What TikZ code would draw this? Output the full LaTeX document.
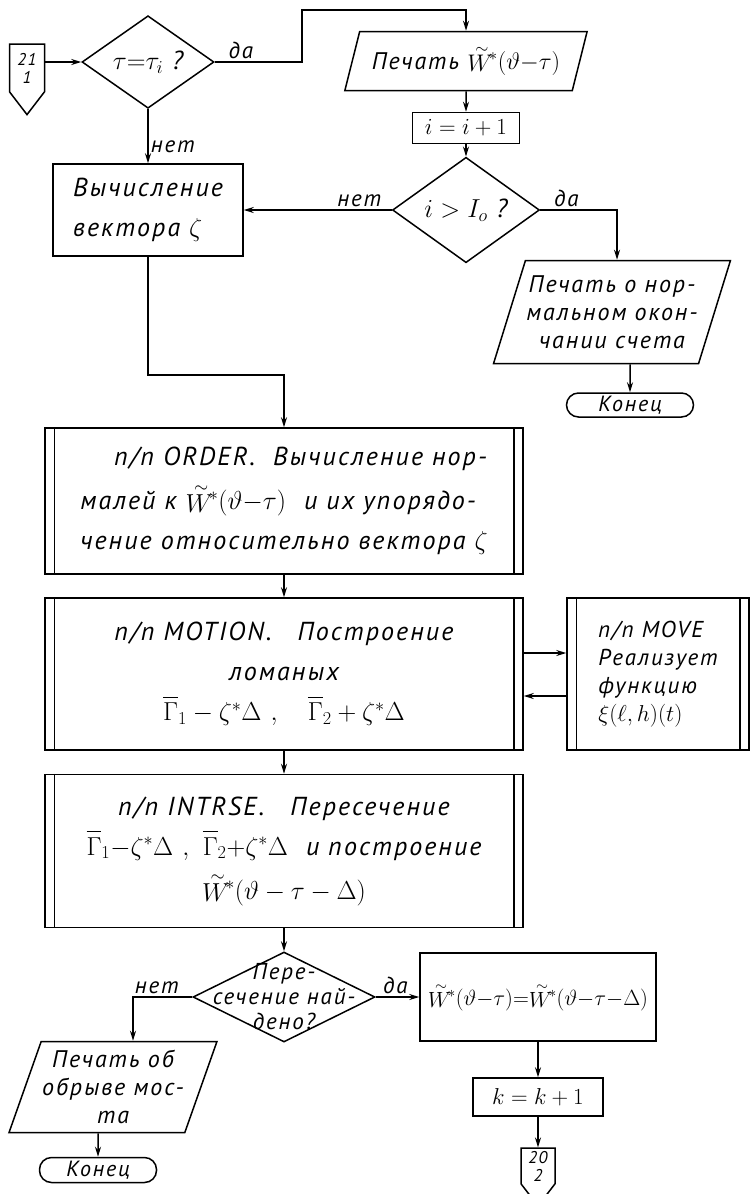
\RequirePackage{fix-cm}
\documentclass[tikz,border=0pt]{standalone}
\usepackage{fontspec}
\setmainfont{PT Sans}[LetterSpace=8]
\usetikzlibrary{shapes.geometric,shapes.symbols,arrows.meta}
\newcommand{\Wt}{{\stackrel{\sim}{W}}\!{}}
\newcommand{\Gb}{{\overline{\rule{0pt}{0.85em}\Gamma}}}

\begin{document}
\begin{tikzpicture}[x=1pt, y=-1pt, line width=1.5pt,
    >={Stealth[length=10pt,width=6pt]},
    every node/.style={font=\fontsize{26}{40}\selectfont\itshape},
    block/.style={rectangle, draw, inner sep=3pt},
    subprog/.style={rectangle, draw, inner sep=3pt},
    decision/.style={diamond, draw, inner sep=0pt},
    io/.style={trapezium, trapezium left angle=67, trapezium right angle=113,
      trapezium stretches=true, draw, inner sep=1pt, align=center,
      font=\fontsize{24}{28}\selectfont\itshape},
    terminal/.style={rectangle, rounded corners=12pt, draw, inner sep=0pt,
      font=\fontsize{22}{24}\selectfont\itshape},
    offpage/.style={signal, signal to=south, signal pointer angle=75, draw,
      inner sep=0pt, align=center, font=\fontsize{17}{18}\selectfont\itshape},
    lbl/.style={inner sep=2pt, font=\fontsize{23}{24}\selectfont\itshape}]
    \useasboundingbox (0,0) rectangle (751,1194);

    % 上の部分
    \node[offpage, minimum width=35pt, minimum height=60pt] (c21) at (27,68) {21\\1};
    \node[decision, minimum width=132pt, minimum height=62pt] (tau) at (148,62) {$\tau{=}\tau_i$ ?};
    \node[io, minimum width=243pt, minimum height=59pt] (printW) at (466,61) {Печать $\Wt^{*}(\vartheta{-}\tau)$};
    \node[block, minimum width=107pt, minimum height=31pt, font=\fontsize{23}{24}\selectfont] (inc) at (466,128) {$i = i+1$};
    \node[decision, minimum width=147pt, minimum height=68pt] (iI) at (466,210) {$i>I_o$ ?};
    \node[block, minimum width=190pt, minimum height=92pt, align=left] (vec) at (148,210) {Вычисление\\вектора $\zeta$};
    \node[io, minimum width=235pt, minimum height=103pt] (printOK) at (612,312) {Печать о нор-\\мальном окон-\\чании счета};
    \node[terminal, minimum width=127pt, minimum height=24pt] (end1) at (630,405) {Конец};
    \coordinate (yesTop) at (302,10);
    \coordinate (vecTurn) at (148,375);

    % подпрограммы
    \node[subprog, minimum width=478pt, minimum height=146pt, align=left] (order) at (284,501)
      {\hspace*{34pt}п/п ORDER.\ \ Вычисление нор-\\[4pt]малей к $\Wt^{*}(\vartheta{-}\tau)$ \ и их упорядо-\\чение относительно вектора $\zeta$};
    \node[subprog, minimum width=478pt, minimum height=152pt, align=center] (motion) at (284,674)
      {п/п MOTION.\quad Построение\\ломаных\\$\Gb_1-\zeta^{*}\Delta\ ,\quad \Gb_2+\zeta^{*}\Delta$};
    \node[subprog, minimum width=182pt, minimum height=152pt, align=left,
      font=\fontsize{23}{28}\selectfont\itshape] (move) at (658,674)
      {п/п MOVE\\Реализует\\функцию\\$\xi(\ell,h)(t)$};
    \node[subprog, minimum width=478pt, minimum height=153pt, align=center] (intrse) at (284,851)
      {п/п INTRSE.\quad Пересечение\\$\Gb_1{-}\zeta^{*}\Delta\ ,\ \Gb_2{+}\zeta^{*}\Delta$ \ и построение\\[4pt]$\Wt^{*}(\vartheta-\tau-\Delta)$};
    \draw ([xshift=10pt]order.north west) -- ([xshift=10pt]order.south west)
      ([xshift=-10pt]order.north east) -- ([xshift=-10pt]order.south east);
    \draw ([xshift=10pt]motion.north west) -- ([xshift=10pt]motion.south west)
      ([xshift=-10pt]motion.north east) -- ([xshift=-10pt]motion.south east);
    \draw ([xshift=10pt]move.north west) -- ([xshift=10pt]move.south west)
      ([xshift=-10pt]move.north east) -- ([xshift=-10pt]move.south east);
    \draw ([xshift=10pt]intrse.north west) -- ([xshift=10pt]intrse.south west)
      ([xshift=-10pt]intrse.north east) -- ([xshift=-10pt]intrse.south east);

    % 下の部分
    \node[decision, minimum width=182pt, minimum height=90pt,
      label={[align=center, font=\fontsize{23}{25}\selectfont\itshape]center:Пере-\\сечение най-\\дено?}] (cross) at (284,997) {};
    \node[io, minimum width=193pt, minimum height=91pt] (printBreak) at (113,1087) {Печать об\\обрыве мос-\\та};
    \node[terminal, minimum width=117pt, minimum height=25pt] (end2) at (98,1170) {Конец};
    \node[block, minimum width=236pt, minimum height=88pt, font=\fontsize{22}{24}\selectfont] (assign) at (538,997)
      {$\Wt^{*}(\vartheta{-}\tau){=}\Wt^{*}(\vartheta{-}\tau{-}\Delta)$};
    \node[block, minimum width=130pt, minimum height=38pt, font=\fontsize{23}{24}\selectfont] (inck) at (538,1097) {$k = k+1$};
    \node[offpage, minimum width=34pt, minimum height=48pt] (c20) at (538,1166) {20\\2};

    % 矢印
    \draw[->] (c21.east |- tau.west) -- (tau.west);
    \draw[->] (tau.east) -| node[lbl, above, pos=0.15] {да} (yesTop) -| (printW.north);
    \draw[->] (tau) -- node[lbl, right, pos=0.7] {нет} (vec);
    \draw[->] (printW) -- (inc);
    \draw[->] (inc) -- (iI);
    \draw[->] (iI) -- node[lbl, above, pos=0.22] {нет} (vec);
    \draw[->] (iI.east) -| node[lbl, above, pos=0.17] {да} ([xshift=5pt]printOK.north);
    \draw[->] ([xshift=18pt]printOK.south) -- (end1);
    \draw[->] (vec.south) -- (vecTurn) -| (order.north);
    \draw[->] (order) -- (motion);
    \draw[->] ([yshift=21pt]motion.east) -- ([yshift=21pt]move.west);
    \draw[->] ([yshift=-22pt]move.west) -- ([yshift=-22pt]motion.east);
    \draw[->] (motion) -- (intrse);
    \draw[->] (intrse) -- (cross);
    \draw[->] (cross.west) -| node[lbl, above, pos=0.3] {нет} ([xshift=20pt]printBreak.north);
    \draw[->] (cross) -- node[lbl, above, pos=0.45] {да} (assign);
    \draw[->] ([xshift=-15pt]printBreak.south) -- (end2);
    \draw[->] (assign) -- (inck);
    \draw[->] (inck) -- (c20);
  \end{tikzpicture}
\end{document}
